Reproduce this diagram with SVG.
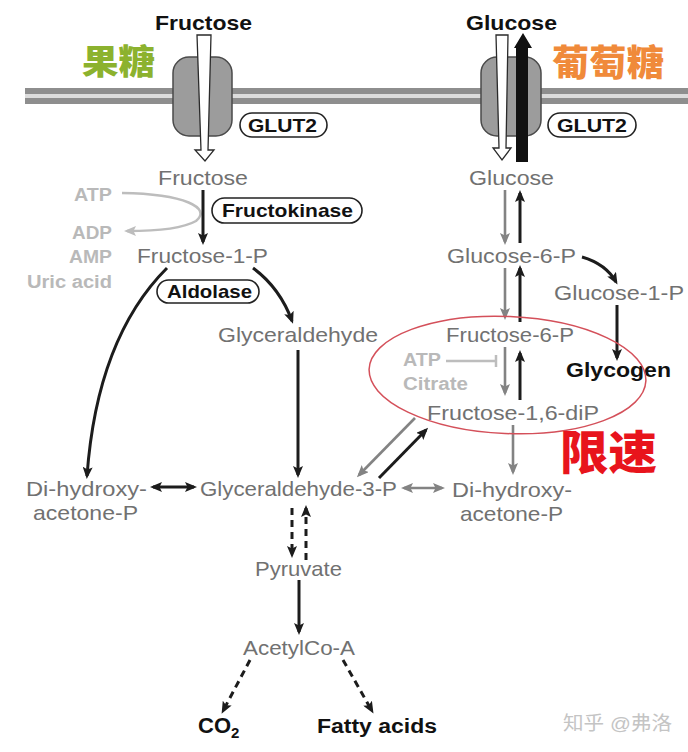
<svg xmlns="http://www.w3.org/2000/svg" width="688" height="752" viewBox="0 0 688 752">
<style>
text{font-family:"Liberation Sans",Arial,"Noto Sans CJK SC",sans-serif;}
.m{font-size:21px;fill:#717171;}
.b{font-size:20px;font-weight:bold;fill:#111;}
.lg{font-size:18px;font-weight:bold;fill:#b9b9b9;}
.cj{font-family:"Noto Sans CJK SC",sans-serif;font-weight:900;}
.pill{fill:#fff;stroke:#222;stroke-width:1.6;}
.ln{fill:none;stroke:#1c1c1c;stroke-width:3;}
.gr{fill:none;stroke:#838383;stroke-width:2.6;}
.dsh{fill:none;stroke:#1c1c1c;stroke-width:3;stroke-dasharray:7 5;}
.lt{fill:none;stroke:#bdbdbd;stroke-width:2.5;}
.tr{fill:#9c9c9c;stroke:#4a4a4a;stroke-width:1.5;}
.ha{fill:#fff;stroke:#2a2a2a;stroke-width:1.3;stroke-linejoin:miter;}
</style>
<defs>
<marker id="ab" viewBox="0 0 12 10" refX="9" refY="5" markerWidth="12" markerHeight="10" markerUnits="userSpaceOnUse" orient="auto-start-reverse"><path d="M0,0 L12,5 L0,10 L2.5,5z" fill="#1c1c1c"/></marker>
<marker id="ag" viewBox="0 0 12 10" refX="9" refY="5" markerWidth="12" markerHeight="10" markerUnits="userSpaceOnUse" orient="auto-start-reverse"><path d="M0,0 L12,5 L0,10 L2.5,5z" fill="#838383"/></marker>
<marker id="al" viewBox="0 0 12 10" refX="9" refY="5" markerWidth="12" markerHeight="10" markerUnits="userSpaceOnUse" orient="auto-start-reverse"><path d="M0,0 L12,5 L0,10 L2.5,5z" fill="#bdbdbd"/></marker>
</defs>
<rect width="688" height="752" fill="#fff"/>

<g id="membrane">
<rect x="25" y="88" width="663" height="16" fill="#8e8e8e"/>
<rect x="25" y="94" width="663" height="4" fill="#dcdcdc"/>
</g>

<g id="transporter-left">
<rect class="tr" x="173" y="57" width="59" height="79" rx="16"/>
</g>
<g id="transporter-right">
<rect class="tr" x="481" y="57" width="60" height="79" rx="16"/>
</g>

<g id="connectors">
<polygon class="ha" points="197,35 211,35 208,150 214,150 205,161 195,150 201,150"/>
<polygon class="ha" points="496,35 508,35 506,148 511,148 502,160 493,148 499,148"/>
<polygon points="516,162 528,162 528,48 532,48 523,33 514,48 516,48" fill="#111"/>
<path class="lt" d="M122,193 C185,194 212,208 196,221 C182,229 155,231 127,231" marker-end="url(#al)"/>
<line class="ln" x1="203" y1="190" x2="203" y2="242" marker-end="url(#ab)"/>
<path class="ln" d="M253,268 Q280,288 292,321" marker-end="url(#ab)"/>
<path class="ln" d="M167,268 Q97,338 87,476" marker-end="url(#ab)"/>
<line class="ln" x1="298" y1="350" x2="298" y2="475" marker-end="url(#ab)"/>
<line class="gr" x1="505" y1="190" x2="505" y2="242" marker-end="url(#ag)"/>
<line class="ln" x1="520" y1="243" x2="520" y2="193" marker-end="url(#ab)"/>
<line class="gr" x1="505" y1="268" x2="505" y2="317" marker-end="url(#ag)"/>
<line class="ln" x1="520" y1="322" x2="520" y2="268" marker-end="url(#ab)"/>
<line class="gr" x1="505" y1="347" x2="505" y2="393" marker-end="url(#ag)"/>
<line class="ln" x1="520" y1="400" x2="520" y2="353" marker-end="url(#ab)"/>
<path class="ln" d="M582,257 Q606,264 616,282" marker-end="url(#ab)"/>
<line class="ln" x1="617" y1="305" x2="617" y2="358" marker-end="url(#ab)"/>
<line class="gr" x1="513" y1="425" x2="513" y2="472" marker-end="url(#ag)"/>
<line class="gr" x1="415" y1="418" x2="359" y2="475" marker-end="url(#ag)"/>
<line class="ln" x1="379" y1="478" x2="426" y2="430" marker-end="url(#ab)"/>
<line class="ln" x1="153" y1="487" x2="194" y2="487" marker-start="url(#ab)" marker-end="url(#ab)"/>
<line class="gr" x1="404" y1="488" x2="442" y2="488" stroke-width="3.2" marker-start="url(#ag)" marker-end="url(#ag)"/>
<line class="dsh" x1="292" y1="508" x2="292" y2="555" marker-end="url(#ab)"/>
<line class="dsh" x1="306" y1="560" x2="306" y2="508" marker-end="url(#ab)"/>
<line class="ln" x1="299" y1="580" x2="299" y2="632" marker-end="url(#ab)"/>
<line class="dsh" x1="250" y1="660" x2="223" y2="711" marker-end="url(#ab)"/>
<line class="dsh" x1="343" y1="660" x2="372" y2="711" marker-end="url(#ab)"/>
<line x1="446" y1="361" x2="496" y2="361" stroke="#bdbdbd" stroke-width="2.5"/>
<line x1="496" y1="355" x2="496" y2="367" stroke="#bdbdbd" stroke-width="2.5"/>
</g>

<g id="fructose-ext"><text class="b" x="155" y="30" style="font-size:21px" textLength="97" lengthAdjust="spacingAndGlyphs">Fructose</text></g>
<g id="glucose-ext"><text class="b" x="466" y="30" style="font-size:21px" textLength="91" lengthAdjust="spacingAndGlyphs">Glucose</text></g>
<g id="label-fructose-cn"><text class="cj" x="82" y="74" font-size="34" fill="#8cb22e" textLength="73" lengthAdjust="spacingAndGlyphs">果糖</text></g>
<g id="label-glucose-cn"><text class="cj" x="552" y="76" font-size="36" fill="#f08a3a" textLength="112" lengthAdjust="spacingAndGlyphs">葡萄糖</text></g>

<g id="glut2-left"><rect class="pill" x="240" y="113" width="87" height="24" rx="12"/><text class="b" x="248" y="132" style="font-size:19px" textLength="69" lengthAdjust="spacingAndGlyphs">GLUT2</text></g>
<g id="glut2-right"><rect class="pill" x="548" y="113" width="88" height="24" rx="12"/><text class="b" x="557" y="132" style="font-size:19px" textLength="70" lengthAdjust="spacingAndGlyphs">GLUT2</text></g>

<g id="fructose"><text class="m" x="158" y="185" textLength="90" lengthAdjust="spacingAndGlyphs">Fructose</text></g>
<g id="glucose"><text class="m" x="469" y="185" textLength="85" lengthAdjust="spacingAndGlyphs">Glucose</text></g>

<g id="cofactors">
<text class="lg" x="74" y="201" textLength="38" lengthAdjust="spacingAndGlyphs">ATP</text>
<text class="lg" x="72" y="239" textLength="40" lengthAdjust="spacingAndGlyphs">ADP</text>
<text class="lg" x="69" y="263" textLength="43" lengthAdjust="spacingAndGlyphs">AMP</text>
<text class="lg" x="27" y="288" textLength="85" lengthAdjust="spacingAndGlyphs">Uric acid</text>
</g>

<g id="fructokinase"><rect class="pill" x="212" y="198" width="150" height="25" rx="12.5"/><text class="b" x="222" y="217" style="font-size:19px" textLength="131" lengthAdjust="spacingAndGlyphs">Fructokinase</text></g>
<g id="fructose-1-p"><text class="m" x="137" y="263" textLength="131" lengthAdjust="spacingAndGlyphs">Fructose-1-P</text></g>
<g id="aldolase"><rect class="pill" x="157" y="280" width="102" height="23" rx="11.5"/><text class="b" x="167" y="298" style="font-size:19px" textLength="85" lengthAdjust="spacingAndGlyphs">Aldolase</text></g>
<g id="glyceraldehyde"><text class="m" x="218" y="342" textLength="160" lengthAdjust="spacingAndGlyphs">Glyceraldehyde</text></g>

<g id="glucose-6-p"><text class="m" x="447" y="263" textLength="129" lengthAdjust="spacingAndGlyphs">Glucose-6-P</text></g>
<g id="glucose-1-p"><text class="m" x="554" y="300" textLength="130" lengthAdjust="spacingAndGlyphs">Glucose-1-P</text></g>
<g id="fructose-6-p"><text class="m" x="446" y="342" textLength="128" lengthAdjust="spacingAndGlyphs">Fructose-6-P</text></g>
<g id="inhibitors">
<text class="lg" x="403" y="366" textLength="38" lengthAdjust="spacingAndGlyphs">ATP</text>
<text class="lg" x="403" y="390" textLength="65" lengthAdjust="spacingAndGlyphs">Citrate</text>
</g>
<g id="glycogen"><text class="b" x="566" y="377" textLength="105" lengthAdjust="spacingAndGlyphs">Glycogen</text></g>
<g id="fructose-1-6-dip"><text class="m" x="427" y="420" textLength="172" lengthAdjust="spacingAndGlyphs">Fructose-1,6-diP</text></g>
<g id="rate-limiting">
<ellipse cx="507.5" cy="375" rx="138.5" ry="58.5" fill="none" stroke="#d4505a" stroke-width="1.5" transform="rotate(2.5 507.5 375)"/>
<text class="cj" x="560" y="469" font-size="46" fill="#e8141c" textLength="97" lengthAdjust="spacingAndGlyphs">限速</text>
</g>

<g id="dhap-left"><text class="m" x="26" y="496" textLength="121" lengthAdjust="spacingAndGlyphs">Di-hydroxy-</text><text class="m" x="33" y="520" textLength="105" lengthAdjust="spacingAndGlyphs">acetone-P</text></g>
<g id="glyceraldehyde-3-p"><text class="m" x="200" y="496" textLength="197" lengthAdjust="spacingAndGlyphs">Glyceraldehyde-3-P</text></g>
<g id="dhap-right"><text class="m" x="452" y="497" textLength="120" lengthAdjust="spacingAndGlyphs">Di-hydroxy-</text><text class="m" x="460" y="521" textLength="103" lengthAdjust="spacingAndGlyphs">acetone-P</text></g>
<g id="pyruvate"><text class="m" x="255" y="576" textLength="87" lengthAdjust="spacingAndGlyphs">Pyruvate</text></g>
<g id="acetylcoa"><text class="m" x="243" y="655" textLength="112" lengthAdjust="spacingAndGlyphs">AcetylCo-A</text></g>
<g id="co2"><text class="b" x="198" y="733" style="font-size:22px">CO<tspan style="font-size:15px" dy="5">2</tspan></text></g>
<g id="fatty-acids"><text class="b" x="317" y="733" textLength="120" lengthAdjust="spacingAndGlyphs">Fatty acids</text></g>
<g id="watermark"><text x="563" y="730" font-size="19" fill="#c4c4c4" font-family="'Noto Sans CJK SC',sans-serif" textLength="109" lengthAdjust="spacingAndGlyphs">知乎 @弗洛</text></g>
</svg>
